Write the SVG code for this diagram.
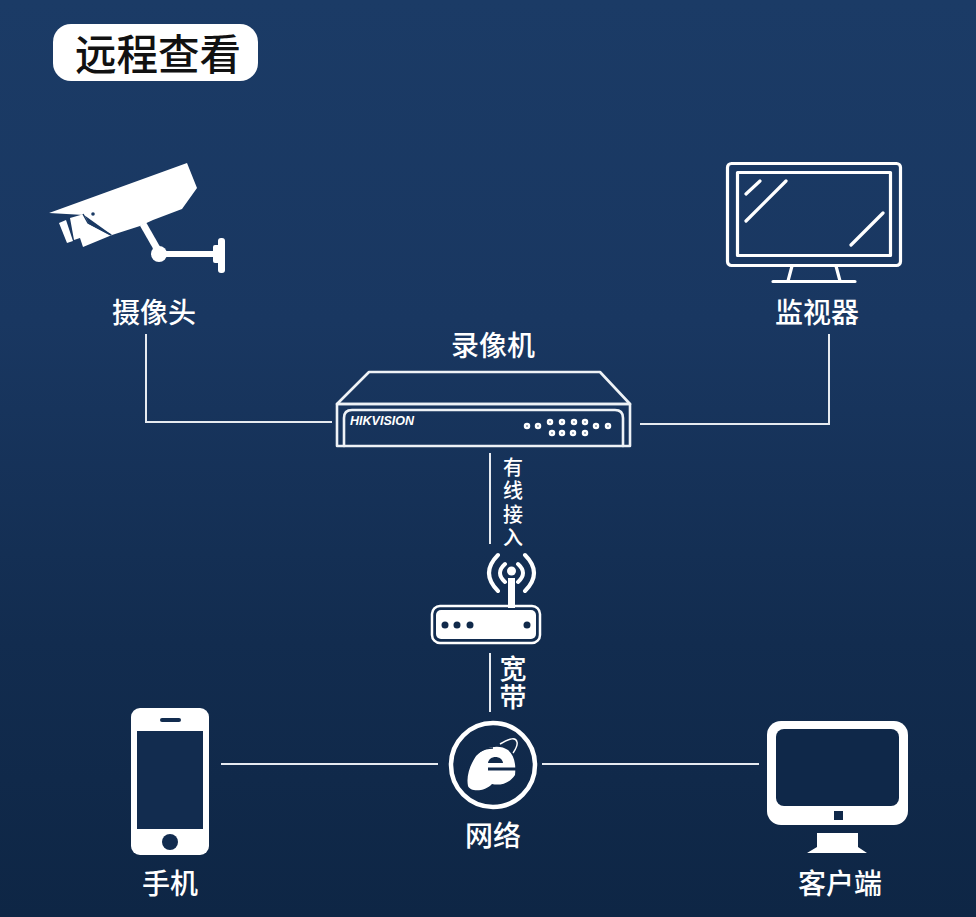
<svg xmlns="http://www.w3.org/2000/svg" width="976" height="917" viewBox="0 0 976 917">
<style>
text{font-family:"Noto Sans CJK SC","Liberation Sans",sans-serif;fill:#fff;text-anchor:middle;font-weight:500}
.l{font-size:28px}
.vt{writing-mode:vertical-rl;text-anchor:start}
.o{fill:none;stroke:#fff;stroke-width:3.2;stroke-linejoin:round;stroke-linecap:round}
.r{fill:none;stroke:#eef2f6;stroke-width:2.6;stroke-linejoin:round;stroke-linecap:round}
.c{fill:none;stroke:#e6eaf0;stroke-width:2}
.w{fill:#fff}
.b{fill:#10294a}
</style>
<defs>
<linearGradient id="bg" x1="0" y1="0" x2="0" y2="1">
<stop offset="0" stop-color="#1b3b66"/>
<stop offset="0.35" stop-color="#193761"/>
<stop offset="0.7" stop-color="#122c4f"/>
<stop offset="1" stop-color="#0e2645"/>
</linearGradient>
</defs>
<rect width="976" height="917" fill="url(#bg)"/>
<g id="title">
<rect x="53" y="24" width="205" height="57" rx="18" fill="#fff"/>
<text x="158" y="70" font-size="41.500" style="fill:#111">远程查看</text>
</g>
<g id="connectors">
<path class="c" d="M146 334V422H332"/>
<path class="c" d="M640 424H829V334"/>
<path class="c" d="M490 453V544"/>
<path class="c" d="M490 653V712"/>
<path class="c" d="M221 764H438"/>
<path class="c" d="M542 764H759"/>
</g>
<g id="camera">
<path class="w" d="M49 213L187 163L197 188L182 209L153 220L140 226L112 235L84 215Z"/>
<path class="w" d="M70 218L84 214L89 224L110 235L112 235L83 247L80 238L74 240Z"/>
<path class="w" d="M59 223L66 220L73 241L67 243Z"/>
<circle cx="93" cy="214" r="1.800" fill="#1a3a64"/>
<path d="M83 214L88 223L111 235" fill="none" stroke="#1a3a64" stroke-width="1.500"/>
<path d="M143 224L159 252" fill="none" stroke="#fff" stroke-width="7"/>
<path d="M159 254H216" fill="none" stroke="#fff" stroke-width="6"/>
<circle cx="159" cy="254" r="8" class="w"/>
<rect x="213" y="245" width="7" height="18" rx="2" class="w"/>
<rect x="218" y="238" width="7" height="35" rx="3" class="w"/>
</g>
<text x="154" y="323" class="l">摄像头</text>
<g id="monitor">
<rect x="727.500" y="163.500" width="173" height="102" rx="4" class="o"/>
<rect x="737.500" y="172.500" width="153" height="83" class="o"/>
<path class="o" d="M746 194L760 181M746 221L786 181M851 245L883 213"/>
<path class="o" d="M792 266L788 281M836 266L840 281M773 281.500H855"/>
</g>
<text x="817" y="323" class="l">监视器</text>
<text x="493" y="356" class="l">录像机</text>
<g id="recorder">
<path class="r" d="M337 404L369 372H600L630 404Z"/>
<rect x="337" y="404" width="293" height="42" class="r"/>
<path class="r" d="M344 446V418Q344 410 352 410H615Q623 410 623 418V446"/>
<text x="382" y="425" font-size="12.500" font-style="italic" style="font-family:'Liberation Sans',sans-serif;font-weight:bold">HIKVISION</text>
<g fill="none" stroke="#fff" stroke-width="2.500">
<circle cx="527" cy="426" r="2"/><circle cx="538" cy="426" r="2"/>
<circle cx="550" cy="422" r="2"/><circle cx="562" cy="422" r="2"/><circle cx="574" cy="422" r="2"/><circle cx="585" cy="422" r="2"/>
<circle cx="552" cy="433" r="2"/><circle cx="562" cy="433" r="2"/><circle cx="573" cy="433" r="2"/><circle cx="585" cy="433" r="2"/>
<circle cx="596" cy="426" r="2"/><circle cx="608" cy="426" r="2"/>
</g>
</g>
<text id="wired-label" class="vt" x="513" y="457" font-size="20" letter-spacing="3.500">有线接入</text>
<g id="router">
<path d="M498 555Q480 573 498 591M525 555Q543 573 525 591" fill="none" stroke="#fff" stroke-width="4" stroke-linecap="round"/>
<path d="M505 564Q495 573 505 582M518 564Q528 573 518 582" fill="none" stroke="#fff" stroke-width="4" stroke-linecap="round"/>
<circle cx="511.500" cy="571" r="4.500" class="w"/>
<rect x="508" y="578" width="7" height="30" class="w"/>
<rect x="432" y="606" width="108" height="37" rx="8" fill="none" stroke="#fff" stroke-width="2.500"/>
<rect x="436" y="610" width="100" height="29" rx="5" class="w"/>
<circle cx="445" cy="625" r="3.500" class="b"/><circle cx="457" cy="625" r="3.500" class="b"/><circle cx="470" cy="625" r="3.500" class="b"/><circle cx="527" cy="625" r="3.500" class="b"/>
</g>
<text id="broadband-label" class="vt" x="513" y="655" font-size="27" letter-spacing="1">宽带</text>
<g id="network">
<circle cx="493" cy="765" r="42" fill="none" stroke="#fff" stroke-width="4.500"/>
<path class="w" d="M476 756C485 746 500 744 508 750C515 756 516 766 515 775C510 783 500 786 492 784C485 792 470 792 468 786C466 776 470 765 476 756Z"/>
<path d="M488 763C489 755 502 755 503 763Z" class="b"/>
<path d="M488 769H517" fill="none" stroke="#10294a" stroke-width="3"/>
<path d="M472 760C476 752 484 748 493 748" fill="none" stroke="#10294a" stroke-width="1.500"/>
<path d="M500 744C510 738 516 737 517 742C518 746 515 750 513 753" fill="none" stroke="#fff" stroke-width="1.500"/>
</g>
<text x="493" y="846" class="l">网络</text>
<g id="phone">
<rect x="131" y="708" width="78" height="147" rx="9" class="w"/>
<rect x="137" y="731" width="66" height="98" fill="#122c4f"/>
<rect x="160" y="718" width="21" height="4" rx="2" fill="#122c4f"/>
<circle cx="170" cy="842" r="8" fill="#122c4f"/>
</g>
<text x="170" y="894" class="l">手机</text>
<g id="client">
<rect x="767" y="721" width="141" height="104" rx="14" class="w"/>
<rect x="776" y="729" width="123" height="77" rx="8" fill="#0f2849"/>
<rect x="834" y="811" width="9" height="9" fill="#0f2849"/>
<path class="w" d="M817 833H858V847L867 853H807L817 847Z"/>
</g>
<text x="840" y="894" class="l">客户端</text>
</svg>
